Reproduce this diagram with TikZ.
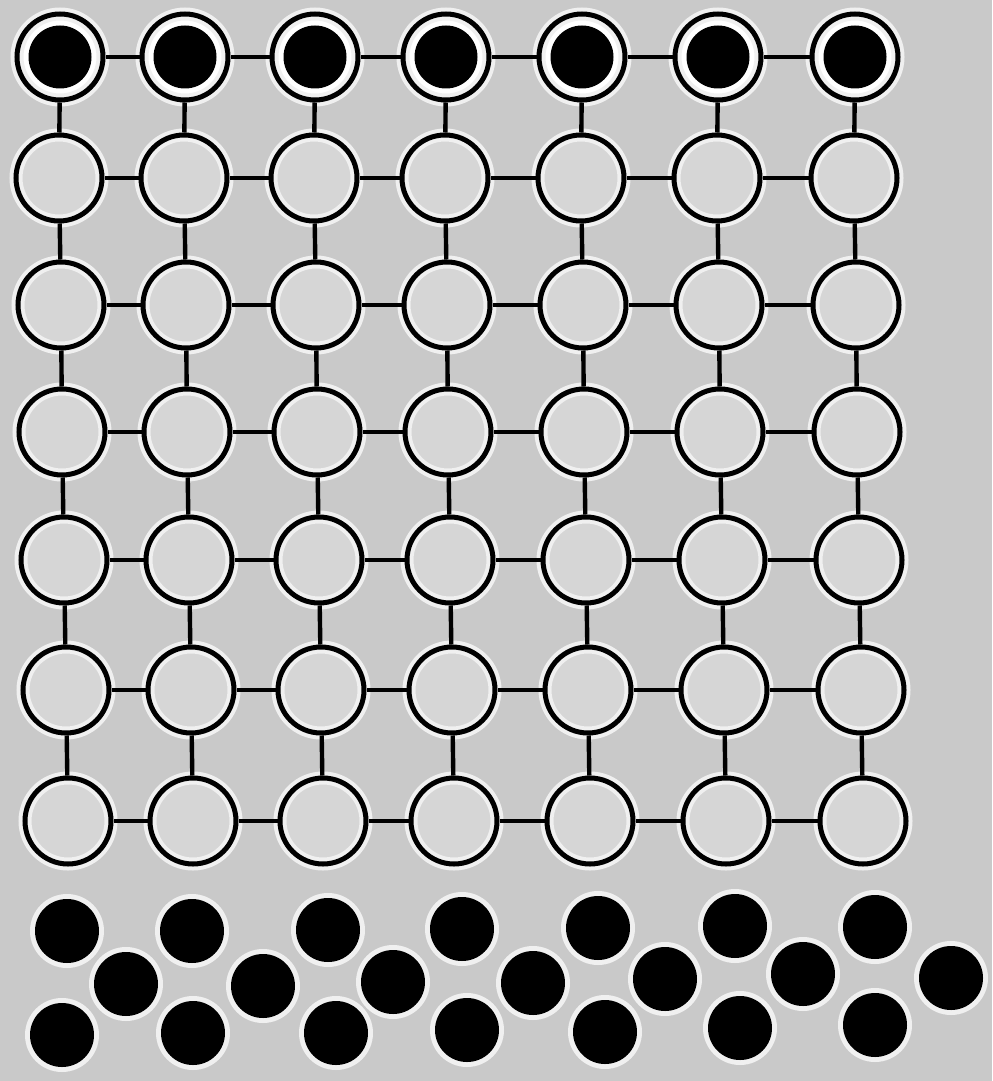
\documentclass[tikz,border=0pt]{standalone}
\usepackage{tikz}
\usepackage{xcolor}
\usetikzlibrary{calc, positioning}

\definecolor{paper}{RGB}{201,201,201}
\definecolor{cellgrey}{RGB}{214,214,214}
\definecolor{glow}{RGB}{240,240,240}

\tikzset{
  ring/.style={circle, inner sep=0pt, minimum size=43pt, draw=black, line width=2.5pt},
  cell/.style={ring, preaction={fill=cellgrey, draw=glow, line width=6.5pt}},
  seeded/.style={ring, preaction={fill=white, draw=glow, line width=6.5pt},
    path picture={\fill[black] (path picture bounding box.center) circle (15.75pt);}},
  grain/.style={circle, inner sep=0pt, minimum size=32pt, fill=black,
    preaction={draw=glow, line width=5pt}},
  link/.style={black, line width=2.2pt}
}

\begin{document}
\begin{tikzpicture}[x=0.5pt, y=-0.5pt]
  % Paper
  \fill[paper] (0,0) rectangle (992,1081);
  \useasboundingbox (0,0) rectangle (992,1081);

  % Top row: occupied sites
  \foreach \c/\x in {0/63, 1/188, 2/318, 3/449, 4/585, 5/721, 6/858}
    \node[seeded] (s-0-\c) at (\x-3, 57) {};

  % Empty sites
  \foreach \r/\y/\dx in {1/178/-4, 2/305/-2, 3/432/-1, 4/560/1, 5/690/3, 6/821/5}
    \foreach \c/\x in {0/63, 1/188, 2/318, 3/449, 4/585, 5/721, 6/858}
      \node[cell] (s-\r-\c) at (\x+\dx, \y) {};

  % Horizontal bonds
  \foreach \r in {0,...,6}
    \foreach \c in {0,...,5} {
      \pgfmathtruncatemacro\nxt{\c+1}
      \draw[link] (s-\r-\c) -- (s-\r-\nxt);
    }

  % Vertical bonds
  \foreach \r in {0,...,5}
    \foreach \c in {0,...,6} {
      \pgfmathtruncatemacro\nxt{\r+1}
      \draw[link] (s-\r-\c) -- (s-\nxt-\c);
    }

  % Loose particles below the lattice
  \foreach \i/\x/\y in {1/67/931, 2/192/931, 3/328/930, 4/462/929, 5/598/928, 6/735/926, 7/875/927,
                        8/126/984, 9/263/986, 10/393/982, 11/533/983, 12/665/979, 13/803/974, 14/951/978,
                        15/62/1035, 16/193/1033, 17/336/1033, 18/467/1030, 19/605/1032, 20/740/1028, 21/875/1025}
    \node[grain] (g-\i) at (\x,\y) {};
\end{tikzpicture}
\end{document}
